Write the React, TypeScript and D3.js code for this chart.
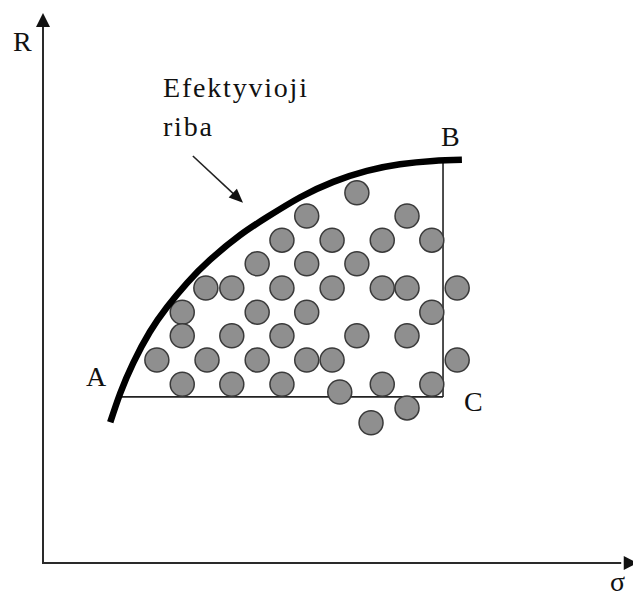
import React from 'react'
import * as d3 from 'd3'

// portfolios (sigma, R) in 0..100 units of each axis
const portfolioSigma = [
  53.2,
  44.7, 61.7,
  40.5, 49.0, 57.5, 65.9,
  36.3, 44.7, 53.2,
  27.6, 32.0, 40.5, 49.0, 57.5, 61.7, 70.2,
  23.6, 36.3, 44.7, 65.9,
  23.6, 32.0, 40.5, 53.2, 61.7,
  19.3, 27.8, 36.3, 44.7, 49.0, 70.2,
  23.6, 32.0, 40.5, 57.5, 65.9,
  50.3, 61.7, 55.6
]
const portfolioReturn = [
  67.3,
  63.1, 63.1,
  58.7, 58.7, 58.7, 58.7,
  54.4, 54.4, 54.4,
  50.0, 50.0, 50.0, 50.0, 50.0, 50.0, 50.0,
  45.6, 45.6, 45.6, 45.6,
  41.3, 41.3, 41.3, 41.3, 41.3,
  36.9, 36.9, 36.9, 36.9, 36.9, 36.9,
  32.5, 32.5, 32.5, 32.5, 32.5,
  31.1, 28.2, 25.5
]

// efficient frontier
const frontierSigma = [11.4, 13.1, 15.3, 18.1, 21.0, 24.4, 28.3, 33.4, 38.0, 43.6, 49.2, 54.9, 60.5, 66.1, 71.0]
const frontierReturn = [25.6, 30.9, 36.4, 42.0, 46.5, 50.9, 55.1, 59.6, 62.9, 66.5, 69.3, 71.3, 72.5, 73.1, 73.3]

// A, B, C corner points
const cornerNames = ['A', 'B', 'C']
const cornerSigma = [13.1, 67.8, 67.8]
const cornerReturn = [30.2, 73.3, 30.2]

const axisLabels = ['R', 'σ']
const noteLines = ['Efektyvioji', 'riba']

const width = 633
const height = 602
const font = '"Liberation Serif", "Times New Roman", serif'

export default function App() {
  const x = d3.scaleLinear().domain([0, 100]).range([43, 633])
  const y = d3.scaleLinear().domain([0, 100]).range([563, 13])

  const frontier = d3.line<number>()
    .x((d, i) => x(frontierSigma[i]))
    .y((d, i) => y(frontierReturn[i]))
    .curve(d3.curveNatural)(frontierSigma)

  const [ax, bx, cx] = cornerSigma.map(x)
  const [ay, by, cy] = cornerReturn.map(y)

  const labelOffset = [[-14, -11, 'end'], [-2, -14, 'start'], [21, 14, 'start']]

  // annotation arrow
  const arrowFrom = [x(25.4), y(74.0)]
  const arrowTo = [x(33.9), y(65.5)]
  const ang = Math.atan2(arrowTo[1] - arrowFrom[1], arrowTo[0] - arrowFrom[0])
  const head = (tx, ty, a, len, w) => {
    const bx0 = tx - len * Math.cos(a)
    const by0 = ty - len * Math.sin(a)
    const px = -Math.sin(a) * w
    const py = Math.cos(a) * w
    return `M${tx},${ty}L${bx0 + px},${by0 + py}L${bx0 - px},${by0 - py}Z`
  }

  const x0 = x(0)
  const y0 = y(0)

  return (
    <svg width={width} height={height} style={{ position: 'absolute', left: 0, top: 0, background: '#fff' }}>
      {/* axes */}
      <line x1={x0} y1={y0 + 1} x2={x0} y2={y(98.5)} stroke="#2a2a2a" strokeWidth={2} />
      <path d={head(x0, y(100), -Math.PI / 2, 14, 7)} fill="#111" />
      <line x1={x0 - 1} y1={y0} x2={x(98)} y2={y0} stroke="#2a2a2a" strokeWidth={2} />
      <path d={head(x(100.8), y0, 0, 14, 7)} fill="#111" />
      <text x={13} y={51} fontFamily={font} fontSize={28} fill="#111">{axisLabels[0]}</text>
      <text x={610} y={591} fontFamily={font} fontSize={28} fill="#111">{axisLabels[1]}</text>

      {/* A-C and C-B lines */}
      <line x1={ax} y1={ay} x2={cx} y2={cy} stroke="#222" strokeWidth={1.6} />
      <line x1={bx} y1={by} x2={cx} y2={cy} stroke="#222" strokeWidth={1.6} />

      {/* portfolios */}
      {portfolioSigma.map((s, i) => (
        <circle key={i} cx={x(s)} cy={y(portfolioReturn[i])} r={12}
          fill="#8f8f8f" stroke="#3a3a3a" strokeWidth={1.5} />
      ))}

      {/* frontier */}
      <path d={frontier} fill="none" stroke="#000" strokeWidth={6.5} />

      {/* corner labels */}
      {cornerNames.map((n, i) => (
        <text key={n} x={x(cornerSigma[i]) + labelOffset[i][0]} y={y(cornerReturn[i]) + labelOffset[i][1]}
          textAnchor={labelOffset[i][2]} fontFamily={font} fontSize={28} fill="#111">{n}</text>
      ))}

      {/* note */}
      {noteLines.map((t, i) => (
        <text key={t} x={163} y={97 + i * 39} fontFamily={font} fontSize={28} letterSpacing={1.8} fill="#111">{t}</text>
      ))}
      <line x1={arrowFrom[0]} y1={arrowFrom[1]}
        x2={arrowTo[0] - 10 * Math.cos(ang)} y2={arrowTo[1] - 10 * Math.sin(ang)}
        stroke="#222" strokeWidth={1.6} />
      <path d={head(arrowTo[0], arrowTo[1], ang, 14, 6)} fill="#111" />
    </svg>
  )
}
